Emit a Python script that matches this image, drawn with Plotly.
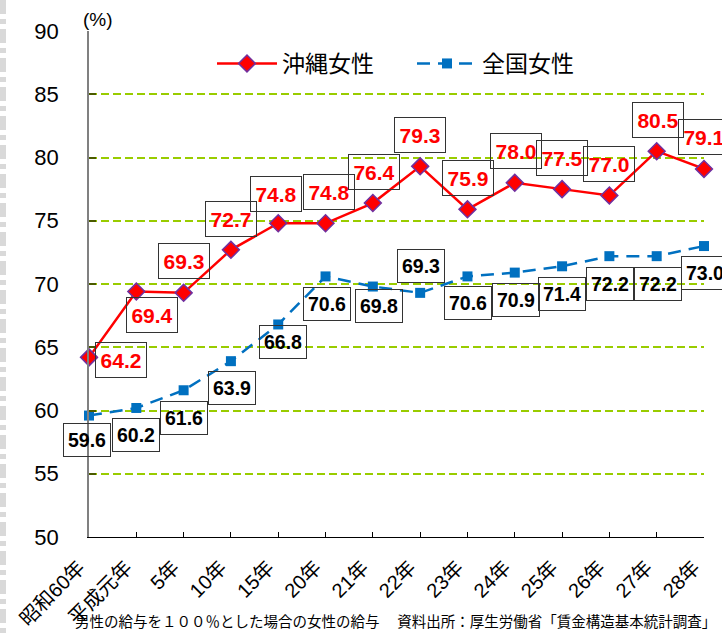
import plotly.graph_objects as go

categories = ["昭和60年", "平成元年", "5年", "10年", "15年", "20年", "21年",
              "22年", "23年", "24年", "25年", "26年", "27年", "28年"]
okinawa = [64.2, 69.4, 69.3, 72.7, 74.8, 74.8, 76.4, 79.3, 75.9, 78.0, 77.5, 77.0, 80.5, 79.1]
national = [59.6, 60.2, 61.6, 63.9, 66.8, 70.6, 69.8, 69.3, 70.6, 70.9, 71.4, 72.2, 72.2, 73.0]
y_ticks = [50, 55, 60, 65, 70, 75, 80, 85, 90]

# label offsets in pixels (dx right, dy down) relative to each point
red_off = [(32, 3), (16, 23), (0, -32), (0, -31), (-2, -29), (3, -31), (1, -31),
           (0, -31), (1, -31), (1, -32), (0, -31), (0, -31), (1, -31), (0, -32)]
blue_off = [(-2, 24), (0, 27), (0, 28), (1, 27), (5, 18), (1, 28), (6, 19),
            (1, -27), (1, 27), (1, 27), (0, 28), (1, 28), (1, 28), (1, 27)]

xs = list(range(len(categories)))
num_font = "Liberation Sans, Arial, sans-serif"
jp_font = "Liberation Sans, Noto Sans CJK JP, sans-serif"

fig = go.Figure()
fig.add_trace(go.Scatter(
    x=xs, y=okinawa, name="沖縄女性", mode="lines+markers",
    line=dict(color="#ff0000", width=2.5),
    marker=dict(symbol="diamond", size=13, color="#ff0000",
                line=dict(color="#7030a0", width=1.5)),
    cliponaxis=False))
fig.add_trace(go.Scatter(
    x=xs, y=national, name="全国女性", mode="lines+markers",
    line=dict(color="#0070c0", width=2.5, dash="13px,8px"),
    marker=dict(symbol="square", size=10, color="#0070c0"),
    cliponaxis=False))

annotations = []
for i, v in enumerate(okinawa):
    dx, dy = red_off[i]
    annotations.append(dict(
        x=xs[i], y=v, xref="x", yref="y", text=f"{v:.1f}", showarrow=False,
        xshift=dx, yshift=-dy, width=50, height=34, borderpad=0,
        bordercolor="#333333", borderwidth=1, bgcolor="rgba(0,0,0,0)",
        font=dict(family=num_font, size=21, color="#ff0000", weight="bold")))
for i, v in enumerate(national):
    dx, dy = blue_off[i]
    annotations.append(dict(
        x=xs[i], y=v, xref="x", yref="y", text=f"{v:.1f}", showarrow=False,
        xshift=dx, yshift=-dy, width=46, height=32, borderpad=0,
        bordercolor="#333333", borderwidth=1, bgcolor="rgba(0,0,0,0)",
        font=dict(family=num_font, size=19.5, color="#000000", weight="bold")))

annotations.append(dict(
    x=(98 - 89) / 615, y=(537 - 20) / 506, xref="paper", yref="paper", text="(%)",
    showarrow=False, xanchor="center", yanchor="middle",
    font=dict(family=num_font, size=19, color="#000000")))
annotations.append(dict(
    x=(73 - 89) / 615, y=(537 - 620) / 506, xref="paper", yref="paper",
    text="男性の給与を１００％とした場合の女性の給与　 資料出所：厚生労働省「賃金構造基本統計調査」",
    showarrow=False, xanchor="left", yanchor="middle",
    font=dict(family="Noto Sans CJK JP, sans-serif", size=14.5, color="#000000")))

shapes = [dict(
    type="line", xref="paper", yref="paper",
    x0=(3 - 89) / 615, x1=(3 - 89) / 615, y0=(537 - 0) / 506, y1=(537 - 634) / 506,
    line=dict(color="#d9d9d9", width=6, dash="14px,5px,5px,5px"))]

fig.update_layout(
    width=722, height=634,
    margin=dict(l=89, r=18, t=31, b=97, autoexpand=False),
    plot_bgcolor="white", paper_bgcolor="white",
    showlegend=True,
    legend=dict(orientation="h", x=(212 - 89) / 615, y=(537 - 42) / 506,
                xanchor="left", yanchor="top", itemwidth=60,
                entrywidth=125, entrywidthmode="pixels",
                font=dict(family=jp_font, size=23, color="#000000"),
                bgcolor="rgba(0,0,0,0)"),
    annotations=annotations,
    shapes=shapes,
    xaxis=dict(range=[0, 13], tickmode="array", tickvals=xs, ticktext=categories,
               tickangle=-45, ticks="inside", ticklen=5, tickcolor="#000000",
               showline=True, linecolor="#000000", linewidth=1, showgrid=False,
               zeroline=False, ticklabelstandoff=10, ticklabelshift=-10,
               automargin=False,
               tickfont=dict(family=jp_font, size=20, color="#000000")),
    yaxis=dict(range=[50, 90], tickmode="array", tickvals=y_ticks,
               ticks="inside", ticklen=7, tickcolor="#4a5a00", tickwidth=2,
               showline=True, linecolor="#808080", linewidth=1.5,
               showgrid=True, gridcolor="#99cc00", gridwidth=2, griddash="8px,4px",
               zeroline=False, ticklabelstandoff=24, automargin=False,
               tickfont=dict(family=num_font, size=22, color="#000000")),
)

fig.write_html("out.html", config={"displayModeBar": False},
               post_script="document.body.style.margin='0';document.body.style.overflow='hidden';")
